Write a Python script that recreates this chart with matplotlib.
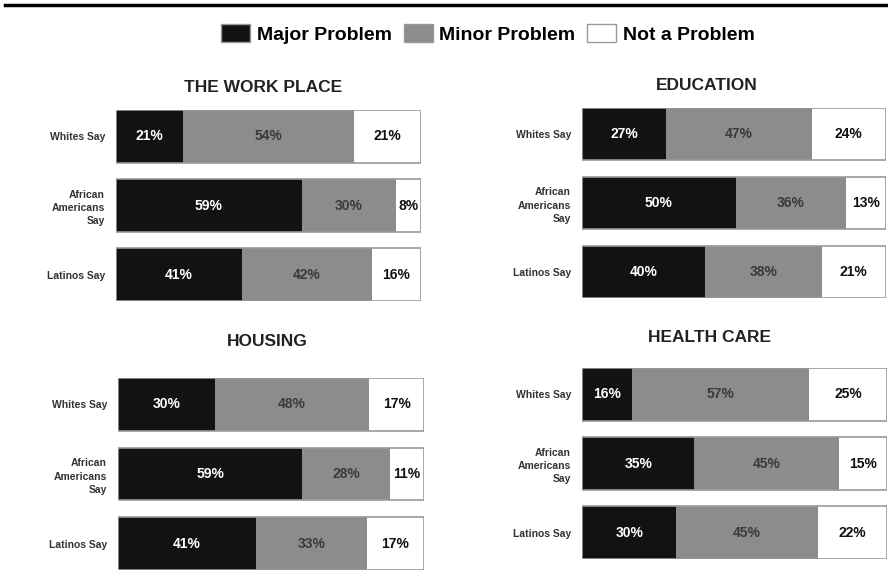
import matplotlib.pyplot as plt
from matplotlib.patches import Patch
from matplotlib.lines import Line2D

plt.rcParams['font.family'] = ['Liberation Sans', 'DejaVu Sans']

GROUPS = ["Whites Say", "African\nAmericans\nSay", "Latinos Say"]
SERIES = ["Major Problem", "Minor Problem", "Not a Problem"]

work_place = [[21, 54, 21], [59, 30, 8], [41, 42, 16]]
education = [[27, 47, 24], [50, 36, 13], [40, 38, 21]]
housing = [[30, 48, 17], [59, 28, 11], [41, 33, 17]]
health_care = [[16, 57, 25], [35, 45, 15], [30, 45, 22]]

# (title, data, left px, right px, top px, bottom px, title x px, title y px)
PANELS = [
    ("THE WORK PLACE", work_place, 116, 421, 110, 301, 263, 88),
    ("EDUCATION", education, 582, 886, 108, 298, 707, 85),
    ("HOUSING", housing, 118, 424, 378, 570, 267, 342),
    ("HEALTH CARE", health_care, 582, 887, 368, 559, 709, 338),
]

COLORS = ["#121212", "#8c8c8c", "#ffffff"]
TEXT_COLORS = ["white", "#3a3a3a", "#111111"]

W, H = 888, 588
fig = plt.figure(figsize=(W / 100, H / 100), dpi=100)

BAR_H = 0.76
for title, data, x0, x1, y0, y1, tx, ty in PANELS:
    ax = fig.add_axes([x0 / W, 1 - y1 / H, (x1 - x0) / W, (y1 - y0) / H])
    for i, row in enumerate(data):
        total = sum(row)
        left = 0
        for j, v in enumerate(row):
            w = v / total * 100
            ax.barh(i, w, left=left, height=BAR_H, color=COLORS[j],
                    edgecolor="none")
            ax.text(left + w / 2, i, f"{v}%", ha="center", va="center",
                    fontsize=10, fontweight="bold", color=TEXT_COLORS[j])
            left += w
        ax.barh(i, 100, height=BAR_H, fill=False, edgecolor="#9a9a9a",
                linewidth=1.2)
    ax.set_xlim(0, 100)
    ax.set_ylim(len(data) - 1 + BAR_H / 2, -BAR_H / 2)
    ax.set_yticks(range(len(GROUPS)))
    ax.set_yticklabels(GROUPS, fontsize=7.5, fontweight="bold",
                       color="#333333", linespacing=1.4)
    ax.tick_params(axis="y", length=0, pad=8)
    ax.set_xticks([])
    for s in ax.spines.values():
        s.set_visible(False)
    fig.text(tx / W, 1 - ty / H, title, ha="center", va="center",
             fontsize=12.5, fontweight="bold", color="#222222")

handles = [Patch(facecolor=c, edgecolor="#999999", label=s)
           for c, s in zip(COLORS, SERIES)]
fig.legend(handles=handles, loc="center", bbox_to_anchor=(488 / W, 1 - 34 / H),
           ncol=3, frameon=False, handlelength=1.5, handleheight=1.0,
           handletextpad=0.35, columnspacing=0.6,
           prop={"size": 14, "weight": "bold"})

fig.add_artist(Line2D([5 / W, 1], [1 - 5 / H, 1 - 5 / H], color="black",
                      linewidth=2.5))

plt.savefig("out.png", dpi=100, facecolor="white")
